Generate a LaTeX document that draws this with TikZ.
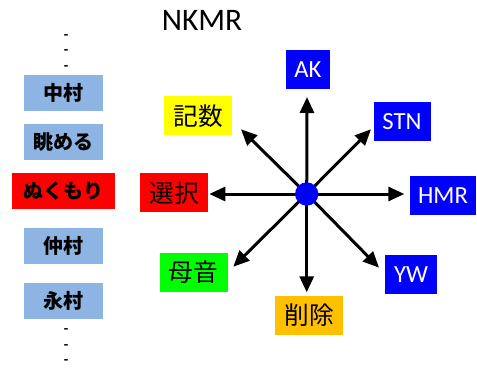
\documentclass[tikz,border=0pt]{standalone}
\usepackage{fontspec}
\setmainfont{Carlito}
\newfontfamily\jp{Noto Sans CJK JP}
\usetikzlibrary{arrows.meta}
\definecolor{lblue}{HTML}{8EB4E3}
\definecolor{kred}{HTML}{FF0000}
\definecolor{kyellow}{HTML}{FFFF00}
\definecolor{kgreen}{HTML}{00FF00}
\definecolor{korange}{HTML}{FFC000}
\definecolor{kblue}{HTML}{0000FF}
\tikzset{
  listbox/.style={fill=lblue, minimum width=59.25pt, minimum height=27pt, inner sep=0pt, font=\jp\bfseries\fontsize{15pt}{17pt}\selectfont},
  jbox/.style={minimum width=51pt, minimum height=29.25pt, inner sep=0pt, font=\jp\fontsize{18.5pt}{20pt}\selectfont},
  ebox/.style={fill=kblue, text=white, minimum height=29.25pt, inner sep=0pt, font=\fontsize{18.5pt}{20pt}\selectfont},
  dashmark/.style={inner sep=0pt, font=\bfseries\fontsize{11pt}{12pt}\selectfont},
  arr/.style={line width=2.25pt, -{Triangle[length=12pt,width=10.5pt]}},
}
\begin{document}
\begin{tikzpicture}[x=0.75pt,y=-0.75pt]
\useasboundingbox (0,0) rectangle (477,370);
% title
\node[font=\fontsize{23.5pt}{26pt}\selectfont, inner sep=0pt] (title) at (202,20) {NKMR};
% left list
\node[dashmark] (d1) at (66,37) {-};
\node[dashmark] (d2) at (66,52) {-};
\node[dashmark] (d3) at (66,68) {-};
\node[listbox] (l1) at (63.5,93) {中村};
\node[listbox] (l2) at (63.5,142) {眺める};
\node[listbox, fill=kred, minimum width=77.25pt] (l3) at (63.5,191) {ぬくもり};
\node[listbox] (l4) at (63.5,246) {仲村};
\node[listbox] (l5) at (63.5,301) {永村};
\node[dashmark] (d4) at (66,331) {-};
\node[dashmark] (d5) at (66,347) {-};
\node[dashmark] (d6) at (66,362) {-};
% arrow tips
\coordinate (tN) at (307,97);
\coordinate (tNE) at (371,129.3);
\coordinate (tE) at (404.3,194);
\coordinate (tSE) at (379,267.7);
\coordinate (tS) at (306.7,292.3);
\coordinate (tSW) at (233.3,266.7);
\coordinate (tW) at (209.3,194);
\coordinate (tNW) at (241,129.3);
\coordinate (c) at (306.7,194);
\foreach \t in {tN,tNE,tE,tSE,tS,tSW,tW,tNW} \draw[arr] (c) -- (\t);
\node[circle, fill=kblue, minimum size=17.5pt, inner sep=0pt] (hub) at (c) {};
% boxes
\node[ebox, minimum width=33.5pt] (ak) at (308,69.7) {AK};
\node[ebox, minimum width=42.75pt] (stn) at (402,121.5) {STN};
\node[ebox, minimum width=50pt] (hmr) at (443,195.5) {HMR};
\node[ebox, minimum width=38.75pt] (yw) at (411,274.7) {YW};
\node[jbox, fill=korange, minimum width=51.5pt] (del) at (309,315) {削除};
\node[jbox, fill=kgreen] (boin) at (193.5,272) {母音};
\node[jbox, fill=kred] (sen) at (174,192.7) {選択};
\node[jbox, fill=kyellow] (kis) at (198,116) {記数};
\end{tikzpicture}
\end{document}
